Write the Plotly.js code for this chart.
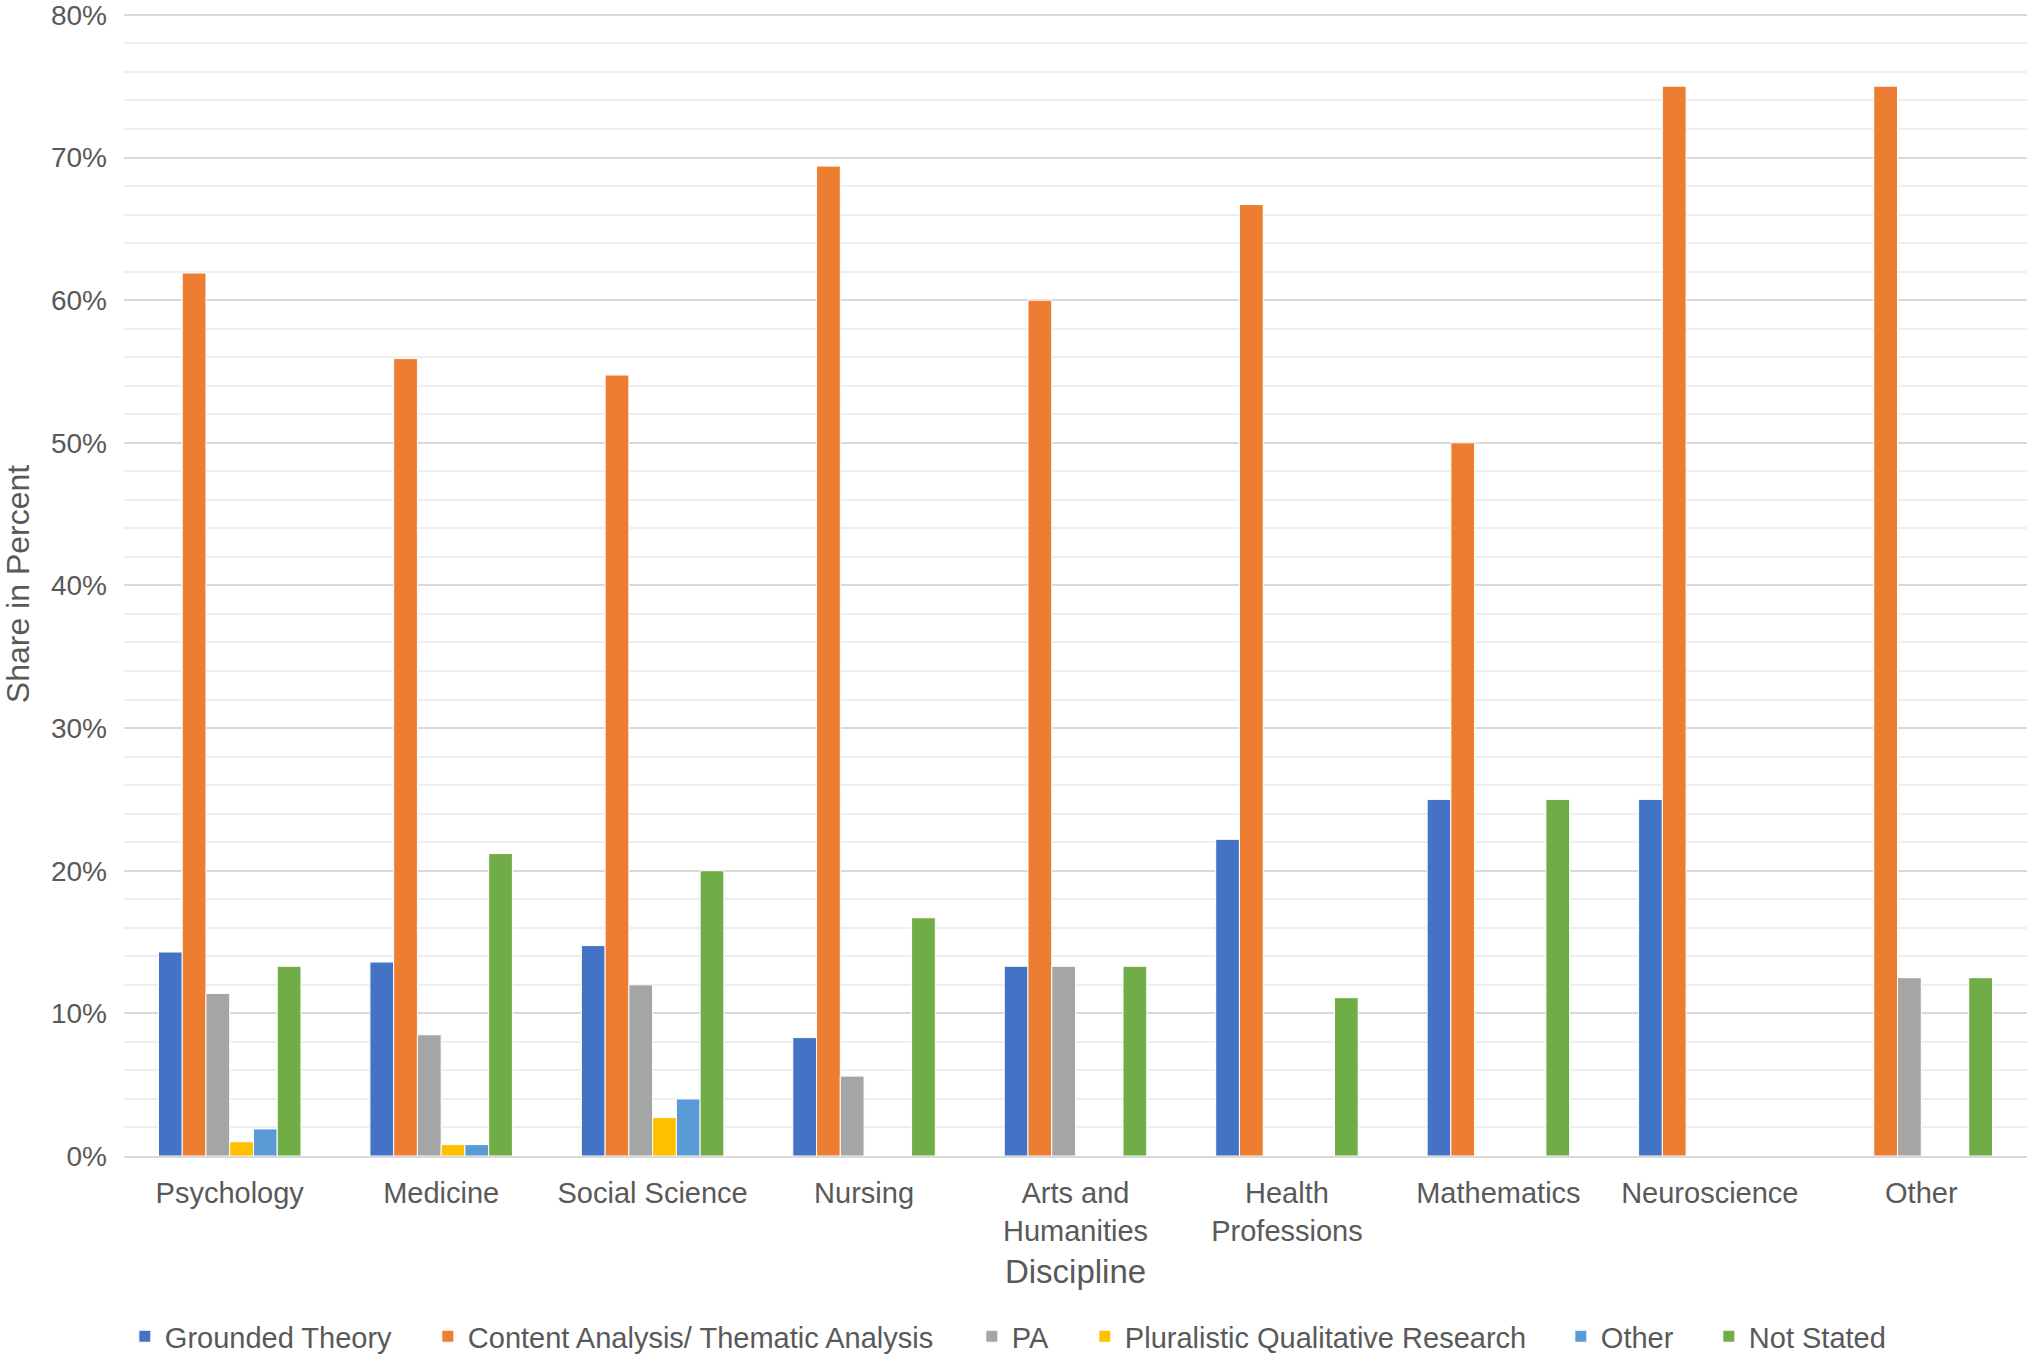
<!DOCTYPE html>
<html>
<head>
<meta charset="utf-8">
<script src="https://cdn.plot.ly/plotly-3.0.1.min.js"></script>
<style>html,body{margin:0;padding:0;background:#fff;}#chart{width:2030px;height:1354px;}</style>
</head>
<body>
<div id="chart"></div>
<script>
const categories = ["Psychology", "Medicine", "Social Science", "Nursing", "Arts and<br>Humanities", "Health<br>Professions", "Mathematics", "Neuroscience", "Other"];
const seriesNames = ["Grounded Theory", "Content Analysis/ Thematic Analysis", "PA", "Pluralistic Qualitative Research", "Other", "Not Stated"];
const groundedTheory = [0.143, 0.136, 0.1475, 0.083, 0.133, 0.222, 0.25, 0.25, 0];
const contentAnalysis = [0.619, 0.559, 0.5475, 0.694, 0.60, 0.667, 0.50, 0.75, 0.75];
const pa = [0.114, 0.085, 0.12, 0.056, 0.133, 0, 0, 0, 0.125];
const pluralistic = [0.010, 0.008, 0.027, 0, 0, 0, 0, 0, 0];
const otherMethod = [0.019, 0.008, 0.040, 0, 0, 0, 0, 0, 0];
const notStated = [0.133, 0.212, 0.20, 0.167, 0.133, 0.111, 0.25, 0, 0.125];
const seriesValues = [groundedTheory, contentAnalysis, pa, pluralistic, otherMethod, notStated];
const colors = ["#4472C4", "#ED7D31", "#A5A5A5", "#FFC000", "#5B9BD5", "#70AD47"];
const legendWidths = [258, 499, 68, 431, 103, 150];

const font = "Liberation Sans, Arial, sans-serif";
const textColor = "#595959";

const traces = seriesNames.map((name, i) => ({
  type: "bar",
  name: name,
  x: categories,
  y: seriesValues[i],
  legendwidth: legendWidths[i],
  marker: {color: colors[i], line: {color: "#ffffff", width: 1}},
  hoverinfo: "x+y+name"
}));

const layout = {
  width: 2030,
  height: 1354,
  paper_bgcolor: "#ffffff",
  plot_bgcolor: "#ffffff",
  margin: {l: 124, r: 3, t: 12, b: 198, autoexpand: false},
  barmode: "group",
  bargap: 0.326,
  bargroupgap: 0,
  font: {family: font, size: 28, color: textColor},
  showlegend: true,
  legend: {
    orientation: "h",
    xref: "container", yref: "container",
    x: 0.0615, xanchor: "left",
    y: 0.013, yanchor: "middle",
    font: {family: font, size: 29, color: textColor},
    itemwidth: 30,
    traceorder: "normal"
  },
  xaxis: {
    type: "category",
    showgrid: false,
    showline: true,
    linecolor: "#D9D9D9",
    linewidth: 2,
    ticks: "",
    ticklabelstandoff: 10,
    tickfont: {family: font, size: 29, color: textColor},
    title: {text: "Discipline", font: {family: font, size: 33, color: textColor}, standoff: 14}
  },
  yaxis: {
    range: [0, 0.802],
    dtick: 0.1,
    tick0: 0,
    tickformat: ".0%",
    showgrid: true,
    gridcolor: "#D9D9D9",
    gridwidth: 2,
    zeroline: false,
    showline: false,
    ticks: "",
    ticklabelstandoff: 16,
    ticklabeloverflow: "allow",
    tickfont: {family: font, size: 28, color: textColor},
    minor: {dtick: 0.02, tick0: 0, showgrid: true, gridcolor: "#EEEEEE", gridwidth: 2},
    title: {text: "Share in Percent", font: {family: font, size: 32, color: textColor}, standoff: 12}
  }
};

Plotly.newPlot("chart", traces, layout, {displayModeBar: false, staticPlot: true});
</script>
</body>
</html>
